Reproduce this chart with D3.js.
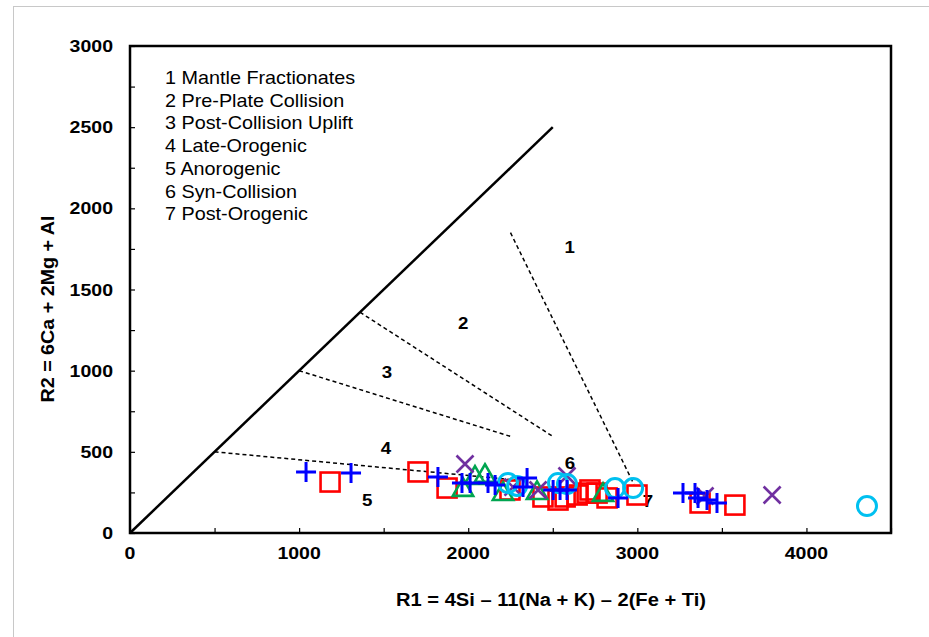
<!DOCTYPE html>
<html><head><meta charset="utf-8">
<script src="https://cdn.jsdelivr.net/npm/d3@7"></script>
<style>body{margin:0;background:#fff;}svg{display:block;font-family:Arial,"Liberation Sans",sans-serif;}</style>
</head><body>
<svg id="c" width="929" height="637"></svg>
<script>
const xTicks = [0, 1000, 2000, 3000, 4000];
const yTicks = [0, 500, 1000, 1500, 2000, 2500, 3000];
const legendLines = ["1 Mantle Fractionates","2 Pre-Plate Collision","3 Post-Collision Uplift","4 Late-Orogenic","5 Anorogenic","6 Syn-Collision","7 Post-Orogenic"];
const fieldLabels = [["1",2600,1760],["2",1970,1295],["3",1520,992],["4",1514,524],["5",1402,203],["6",2602,431],["7",3063,197]];
const solidLine = [[0,0],[2500,2500]];
const dashedLines = [
  [[500,500],[2300,325]],
  [[1000,1000],[2250,595]],
  [[1360,1360],[2500,595]],
  [[2250,1850],[2980,300]]
];
const redSquares = [[1183,314],[1703,376],[1875,277],[2247,265],[2442,222],[2531,203],[2573,222],[2644,234],[2703,246],[2720,265],[2762,246],[2821,216],[2998,234],[3371,185],[3577,172]];
const greenTriangles = [[1969,265],[2040,339],[2099,351],[2206,240],[2407,246],[2797,234]];
const purpleX = [[1981,425],[2265,283],[2413,265],[2584,351],[3400,228],[3797,234]];
const cyanCircles = [[2235,308],[2289,290],[2531,308],[2584,302],[2868,277],[2975,277],[4358,166]];
const bluePlus = [[1041,376],[1307,370],[1821,345],[1963,308],[2011,308],[2117,308],[2159,296],[2348,339],[2324,283],[2502,265],[2543,265],[2584,265],[2886,216],[3270,246],[3341,246],[3359,216],[3412,203],[3471,185]];

const svg = d3.select("#c");
svg.append("rect").attr("x",13.5).attr("y",6.5).attr("width",1000).attr("height",700).attr("fill","none").attr("stroke","#c8c8c8").attr("stroke-width",1);

const L=130, R=891, T=46, B=533;
const x = d3.scaleLinear().domain([0,4500]).range([L,R]);
const y = d3.scaleLinear().domain([0,3000]).range([B,T]);

function stext(parent, tx, ty, str, size, weight, sx, anchor) {
  return parent.append("text").attr("transform",`translate(${tx},${ty}) scale(${sx},1)`)
    .attr("text-anchor",anchor||"start").style("font-size",size+"px").style("font-weight",weight||"normal")
    .attr("fill","#000").text(str);
}

// ticks
const g = svg.append("g");
const xAxis = d3.axisBottom(x).tickValues(d3.range(0,4501,500)).tickSize(-5).tickFormat("");
const yAxis = d3.axisLeft(y).tickValues(d3.range(0,3001,250)).tickSize(-5).tickFormat("");
const gx = g.append("g").attr("transform",`translate(0,${B})`).call(xAxis);
const gy = g.append("g").attr("transform",`translate(${L},0)`).call(yAxis);
[gx,gy].forEach(a=>{a.select(".domain").remove();a.selectAll(".tick line").attr("stroke","#000").attr("stroke-width",1.2);});
xTicks.forEach(v=>stext(svg, x(v), 559, String(v), 16, "bold", 1.22, "middle"));
yTicks.forEach(v=>stext(svg, 113, y(v)+6, String(v), 16, "bold", 1.22, "end"));

// frame
svg.append("rect").attr("x",L).attr("y",T).attr("width",R-L).attr("height",B-T).attr("fill","none").attr("stroke","#000").attr("stroke-width",2.5);

// lines
const line = d3.line().x(d=>x(d[0])).y(d=>y(d[1]));
svg.append("path").attr("d",line(solidLine)).attr("stroke","#000").attr("stroke-width",2.5).attr("fill","none");
dashedLines.forEach(dl=>svg.append("path").attr("d",line(dl)).attr("stroke","#000").attr("stroke-width",1.5).attr("stroke-dasharray","4,3").attr("fill","none"));

// field labels
fieldLabels.forEach(f=>stext(svg, x(f[1]), y(f[2])+6, f[0], 17, "bold", 1.1, "middle"));

// legend text
legendLines.forEach((t,i)=>stext(svg, 165, 84+i*22.7, t, 18, "normal", 1.1, "start"));

// markers
const m = svg.append("g");
m.selectAll(".sq").data(redSquares).join("rect").attr("x",d=>x(d[0])-9.5).attr("y",d=>y(d[1])-9.5).attr("width",19).attr("height",19)
  .attr("fill","none").attr("stroke","#ff0000").attr("stroke-width",2.6);
const tri = d3.symbol().type(d3.symbolTriangle).size(180);
m.selectAll(".tr").data(greenTriangles).join("path").attr("d",tri).attr("transform",d=>`translate(${x(d[0])},${y(d[1])})`)
  .attr("fill","none").attr("stroke","#00a550").attr("stroke-width",2.6);
m.selectAll(".xx").data(purpleX).join("path").attr("d","M-8.5,-8.5L8.5,8.5M-8.5,8.5L8.5,-8.5").attr("transform",d=>`translate(${x(d[0])},${y(d[1])})`)
  .attr("fill","none").attr("stroke","#7030a0").attr("stroke-width",2.6);
m.selectAll(".ci").data(cyanCircles).join("circle").attr("cx",d=>x(d[0])).attr("cy",d=>y(d[1])).attr("r",9.5)
  .attr("fill","none").attr("stroke","#00c0f0").attr("stroke-width",3);
m.selectAll(".pl").data(bluePlus).join("path").attr("d","M-10,0L10,0M0,-10L0,10").attr("transform",d=>`translate(${x(d[0])},${y(d[1])})`)
  .attr("fill","none").attr("stroke","#0000ff").attr("stroke-width",3);

// axis titles
svg.append("text").attr("x",551).attr("y",606).attr("text-anchor","middle").style("font-size","18px").style("font-weight","bold")
  .attr("textLength",310).attr("lengthAdjust","spacingAndGlyphs")
  .text("R1 = 4Si \u2013 11(Na + K) \u2013 2(Fe + Ti)");
svg.append("text").attr("transform","translate(54,309) rotate(-90)").attr("text-anchor","middle").style("font-size","18px").style("font-weight","bold")
  .attr("textLength",187).attr("lengthAdjust","spacingAndGlyphs")
  .text("R2 = 6Ca + 2Mg + Al");
</script>
</body></html>
